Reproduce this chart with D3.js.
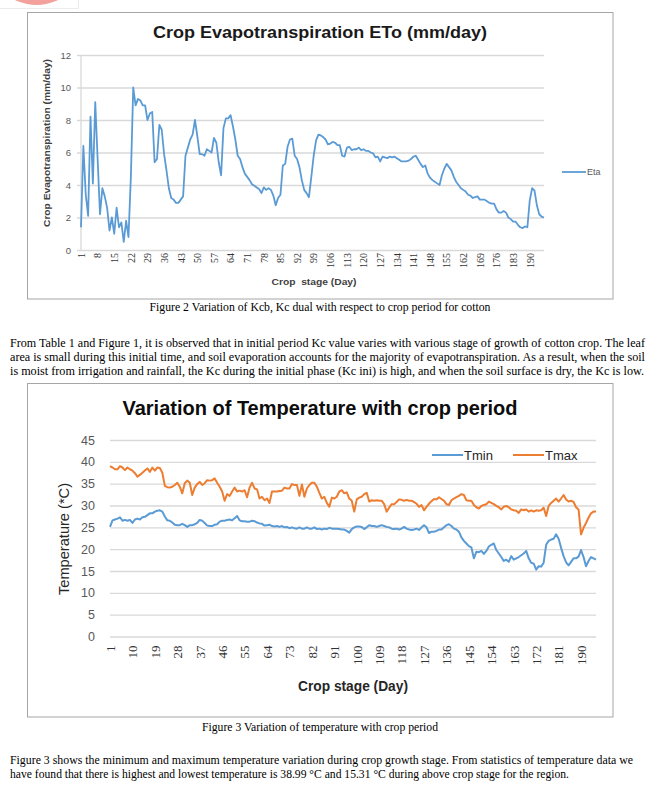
<!DOCTYPE html>
<html>
<head>
<meta charset="utf-8">
<script src="https://cdn.jsdelivr.net/npm/d3@7"></script>
<style>
  html, body { margin: 0; padding: 0; background: #fff; }
  svg { display: block; }
</style>
</head>
<body>
<div id="page"></div>
<script>
// Eta (mm/day), one value per crop day
const eta = [
  1.4, 6.4, 3.4, 2.1, 8.2, 4.1, 9.1, 5.6, 2.2, 3.8,
  3.3, 2.6, 1.2, 2.0, 1.0, 2.6, 1.4, 1.7, 0.5, 1.8,
  0.8, 4.5, 10.0, 8.9, 9.3, 9.2, 8.9, 8.9, 8.0, 8.4,
  8.5, 5.4, 5.6, 7.7, 7.4, 5.9, 4.9, 3.8, 3.2, 3.1,
  2.9, 2.9, 3.1, 3.3, 5.8, 6.3, 6.8, 7.1, 8.0, 7.0,
  5.9, 5.9, 5.8, 6.2, 6.1, 6.0, 6.9, 6.6, 5.4, 4.6,
  7.5, 8.1, 8.1, 8.3, 7.6, 6.8, 5.8, 5.6, 5.1, 4.7,
  4.5, 4.3, 4.05, 3.95, 3.85, 3.75, 3.5, 3.85, 3.7, 3.8,
  3.7, 3.35, 2.75, 3.2, 3.4, 5.2, 5.3, 6.35, 6.8, 6.85,
  5.8, 5.6, 5.1, 4.3, 3.7, 3.5, 3.25, 4.5, 5.8, 6.75,
  7.1, 7.05, 6.95, 6.8, 6.5, 6.55, 6.65, 6.6, 6.45, 6.45,
  5.8, 5.75, 6.3, 6.35, 6.15, 6.2, 6.2, 6.3, 6.15, 6.2,
  6.1, 6.1, 6.0, 5.95, 5.7, 5.75, 5.45, 5.75, 5.7, 5.65,
  5.75, 5.7, 5.75, 5.65, 5.55, 5.45, 5.45, 5.45, 5.5, 5.6,
  5.75, 5.8, 5.55, 5.3, 5.1, 5.2, 4.7, 4.45, 4.3, 4.2,
  4.1, 4.0, 4.6, 5.0, 5.3, 5.1, 4.9, 4.5, 4.2, 4.0,
  3.8, 3.7, 3.6, 3.4, 3.35, 3.2, 3.25, 3.3, 3.1, 3.1,
  3.1, 3.0, 2.9, 2.85, 2.85, 2.5, 2.3, 2.3, 2.4, 2.3,
  2.0, 1.9, 1.75, 1.75, 1.55, 1.4, 1.35, 1.45, 1.4, 3.05,
  3.8, 3.65, 2.75, 2.2, 2.05, 2.0
];

// Tmax and Tmin (*C) per crop day
const tmax = [
  39.0, 38.7, 38.3, 38.3, 39.0, 38.7, 38.1, 38.7, 38.3, 38.0,
  37.4, 36.6, 37.0, 37.5, 38.0, 38.5, 37.7, 38.7, 38.0, 38.7,
  38.6, 37.5, 34.5, 34.2, 34.1, 34.3, 34.7, 35.2, 34.3, 32.8,
  35.1, 35.7, 35.2, 32.4, 34.1, 34.9, 35.4, 34.7, 35.1, 35.8,
  35.7, 35.8, 36.2, 35.2, 34.3, 33.2, 31.1, 32.6, 32.2, 33.2,
  34.1, 33.2, 33.4, 33.2, 33.5, 31.9, 34.1, 35.2, 33.9, 33.7,
  31.6, 32.0, 31.2, 31.6, 30.6, 33.2, 33.2, 33.2, 33.3, 33.4,
  34.1, 33.9, 33.9, 34.9, 34.7, 34.7, 32.2, 34.8, 32.0, 33.9,
  34.7, 35.2, 35.2, 34.3, 32.9, 31.6, 32.0, 30.6, 29.7, 31.8,
  31.6, 32.0, 33.2, 33.5, 32.8, 33.0, 31.6, 31.1, 28.6, 31.4,
  31.8, 32.0, 32.6, 32.9, 30.9, 31.2, 31.1, 31.2, 31.1, 31.1,
  30.3, 28.6, 29.5, 30.3, 30.3, 30.8, 31.4, 31.3, 31.1, 31.3,
  31.1, 31.1, 30.8, 30.4, 29.7, 30.1, 28.9, 29.7, 30.4, 31.0,
  31.5, 31.4, 31.9, 31.5, 31.1, 30.3, 30.1, 31.2, 31.6, 31.9,
  32.2, 32.6, 32.4, 31.2, 31.1, 31.1, 30.1, 29.6, 29.3, 29.9,
  30.1, 30.3, 30.9, 30.6, 30.3, 29.9, 29.6, 29.1, 29.7, 29.9,
  29.6, 29.1, 28.9, 28.8, 28.3, 29.1, 28.9, 29.1, 28.6, 28.9,
  28.6, 28.9, 28.8, 28.9, 29.5, 27.6, 29.9, 30.6, 31.1, 31.6,
  30.9, 31.6, 32.4, 31.4, 30.9, 31.1, 30.8, 29.6, 29.1, 23.4,
  24.9, 26.0, 27.2, 28.2, 28.6, 28.6
];

const tmin = [
  25.1, 26.6, 26.8, 27.0, 27.3, 26.5, 26.7, 26.5, 26.7, 26.0,
  26.8, 27.0, 26.8, 27.3, 27.4, 27.8, 28.2, 28.2, 28.6, 28.8,
  28.9, 28.6, 27.5, 26.6, 26.5, 26.1, 25.6, 25.5, 25.5, 25.8,
  25.5, 25.1, 25.5, 25.5, 25.7, 26.0, 26.7, 26.5, 26.0, 25.4,
  25.3, 25.3, 25.6, 25.7, 26.3, 26.5, 26.5, 26.7, 26.8, 26.6,
  27.1, 27.6, 26.6, 26.4, 26.4, 26.3, 26.3, 26.5, 26.4, 26.1,
  25.9, 25.8, 25.4, 25.5, 25.6, 25.3, 25.2, 25.3, 25.1, 25.3,
  25.0, 25.1, 24.8, 25.0, 24.8, 24.7, 25.0, 24.7, 24.7, 25.0,
  24.7, 24.7, 25.0, 24.6, 24.7, 24.5, 24.7, 24.6, 24.9, 24.7,
  24.7, 24.7, 24.6, 24.5, 24.5, 24.2, 23.8, 24.6, 25.0, 25.2,
  25.2, 25.1, 24.6, 25.0, 25.5, 25.3, 25.3, 25.1, 25.3, 25.5,
  25.3, 25.1, 25.0, 24.7, 24.6, 24.7, 24.5, 24.7, 25.1, 24.7,
  24.5, 24.4, 24.5, 24.7, 24.4, 25.0, 25.5, 25.0, 23.7, 24.0,
  24.0, 24.2, 24.5, 24.5, 25.0, 25.5, 25.7, 25.3, 24.7, 24.5,
  24.0, 22.7, 21.9, 21.3, 20.7, 20.4, 17.9, 19.4, 19.3, 19.6,
  18.9, 19.6, 20.6, 21.0, 21.3, 19.8, 19.0, 18.2, 17.3, 17.6,
  17.1, 18.4, 17.6, 17.9, 18.2, 18.6, 19.0, 19.6, 17.9, 16.9,
  16.7, 15.3, 16.1, 16.0, 16.9, 21.0, 21.9, 22.2, 22.4, 23.4,
  22.4, 20.3, 18.4, 17.0, 16.3, 17.1, 17.9, 17.9, 18.3, 19.8,
  18.2, 16.1, 17.3, 18.2, 17.9, 17.6
];

const days = d3.range(1, eta.length + 1);

// tick labels
const etaXTicks = [1, 8, 15, 22, 29, 36, 43, 50, 57, 64, 71, 78, 85, 92, 99, 106,
                   113, 120, 127, 134, 141, 148, 155, 162, 169, 176, 183, 190];
const etaYTicks = [0, 2, 4, 6, 8, 10, 12];
const tempXTicks = [1, 10, 19, 28, 37, 46, 55, 64, 73, 82, 91, 100, 109, 118, 127,
                    136, 145, 154, 163, 172, 181, 190];
const tempYTicks = [0, 5, 10, 15, 20, 25, 30, 35, 40, 45];

// page text
const caption2 = "Figure 2 Variation of Kcb, Kc dual with respect to crop period for cotton";
const para1 = [
  "From Table 1 and Figure 1, it is observed that in initial period Kc value varies with various stage of growth of cotton crop. The leaf",
  "area is small during this initial time, and soil evaporation accounts for the majority of evapotranspiration. As a result, when the soil",
  "is moist from irrigation and rainfall, the Kc during the initial phase (Kc ini) is high, and when the soil surface is dry, the Kc is low."
];
const para1Widths = [635, 635, 634];
const caption3 = "Figure 3 Variation of temperature with crop period";
const para2 = [
  "Figure 3 shows the minimum and maximum temperature variation during crop growth stage. From statistics of temperature data we",
  "have found that there is highest and lowest temperature is 38.99 \u00b0C and 15.31 \u00b0C during above crop stage for the region."
];
const para2Widths = [623, 559];

const SANS = "'Liberation Sans', Arial, sans-serif";
const SERIF = "'Liberation Serif', 'Times New Roman', serif";
const BLUE = "#5b9bd5", ORANGE = "#ed7d31", GRID = "#d9d9d9", LABEL = "#595959";

const svg = d3.select("#page").append("svg")
    .attr("width", 659)
    .attr("height", 787)
    .attr("viewBox", "0 0 659 787");

svg.append("rect").attr("width", 659).attr("height", 787).attr("fill", "#fff");

// bit of a logo cut off at the top edge
svg.append("path")
    .attr("d", "M0,8.5H78.5V0")
    .attr("fill", "none")
    .attr("stroke", "#ececec");
svg.append("circle")
    .attr("cx", 36.5).attr("cy", -43.7).attr("r", 48.7)
    .attr("fill", "#f3a19c");

// ---------- Figure 2 : Eta ----------
const c1 = svg.append("g");
c1.append("rect")
    .attr("x", 27.5).attr("y", 12.5)
    .attr("width", 585.5).attr("height", 286.5)
    .attr("fill", "#fff")
    .attr("stroke", "#a6a6a6");

const x1 = d3.scaleLinear().domain([1, days.length]).range([81, 544]);
const y1 = d3.scaleLinear().domain([0, 12]).range([250, 55]);

const yAxis1 = c1.append("g")
    .attr("transform", "translate(81,0)")
    .call(d3.axisLeft(y1).tickValues(etaYTicks).tickSize(-(544 - 81)).tickPadding(10));
yAxis1.select(".domain").remove();
yAxis1.selectAll("line").attr("stroke", GRID).attr("stroke-width", 1.3).attr("x1", -4);
yAxis1.selectAll("text")
    .attr("font-family", SANS).attr("font-size", 9.5).attr("fill", LABEL);

c1.append("line")
    .attr("x1", 81).attr("x2", 81).attr("y1", 55).attr("y2", 250)
    .attr("stroke", GRID).attr("stroke-width", 1.3);

const xAxis1 = c1.append("g")
    .attr("transform", "translate(0,250)")
    .call(d3.axisBottom(x1).tickValues(etaXTicks).tickSize(0).tickFormat(d3.format("d")));
xAxis1.select(".domain").remove();
xAxis1.selectAll("text")
    .attr("font-family", SERIF).attr("font-size", 10).attr("fill", "#333")
    .attr("transform", "rotate(-90)")
    .attr("text-anchor", "end")
    .attr("x", -3).attr("y", 0).attr("dy", "0.33em");

const line1 = d3.line().x((d, i) => x1(days[i])).y(d => y1(d));
c1.append("path")
    .datum(eta)
    .attr("d", line1)
    .attr("fill", "none")
    .attr("stroke", BLUE)
    .attr("stroke-width", 1.8)
    .attr("stroke-linejoin", "round");

c1.append("text")
    .attr("x", 320).attr("y", 38)
    .attr("text-anchor", "middle")
    .attr("font-family", SANS).attr("font-weight", "bold").attr("font-size", 16)
    .attr("textLength", 334).attr("lengthAdjust", "spacingAndGlyphs")
    .attr("fill", "#1a1a1a")
    .text("Crop Evapotranspiration ETo (mm/day)");

c1.append("text")
    .attr("transform", "translate(50,143) rotate(-90)")
    .attr("text-anchor", "middle")
    .attr("font-family", SANS).attr("font-weight", "bold").attr("font-size", 9)
    .attr("textLength", 168).attr("lengthAdjust", "spacingAndGlyphs")
    .attr("fill", "#404040")
    .text("Crop Evapotranspiration (mm/day)");

c1.append("text")
    .attr("x", 314).attr("y", 285)
    .attr("text-anchor", "middle")
    .attr("font-family", SANS).attr("font-weight", "bold").attr("font-size", 9)
    .attr("textLength", 85).attr("lengthAdjust", "spacingAndGlyphs")
    .attr("fill", "#404040")
    .style("white-space", "pre")
    .text("Crop  stage (Day)");

// legend
c1.append("line")
    .attr("x1", 562).attr("x2", 586).attr("y1", 172).attr("y2", 172)
    .attr("stroke", BLUE).attr("stroke-width", 1.8);
c1.append("text")
    .attr("x", 587).attr("y", 172).attr("dy", "0.35em")
    .attr("font-family", SANS).attr("font-size", 9).attr("fill", LABEL)
    .text("Eta");

// ---------- Figure 3 : temperature ----------
const c2 = svg.append("g");
c2.append("rect")
    .attr("x", 27.5).attr("y", 383.5)
    .attr("width", 585.5).attr("height", 333.5)
    .attr("fill", "#fff")
    .attr("stroke", "#a6a6a6");

const x2 = d3.scaleLinear().domain([1, days.length]).range([110, 596]);
const y2 = d3.scaleLinear().domain([0, 45]).range([636.5, 440]);

const yAxis2 = c2.append("g")
    .attr("transform", "translate(110,0)")
    .call(d3.axisLeft(y2).tickValues(tempYTicks).tickSize(-(596 - 110)).tickPadding(15));
yAxis2.select(".domain").remove();
yAxis2.selectAll("line").attr("stroke", GRID).attr("stroke-width", 1.4);
yAxis2.selectAll("text")
    .attr("font-family", SANS).attr("font-size", 12.5).attr("fill", LABEL);

const xAxis2 = c2.append("g")
    .attr("transform", "translate(0,636.5)")
    .call(d3.axisBottom(x2).tickValues(tempXTicks).tickSize(0).tickFormat(d3.format("d")));
xAxis2.select(".domain").remove();
xAxis2.selectAll("text")
    .attr("font-family", SERIF).attr("font-size", 13).attr("fill", "#333")
    .attr("transform", "rotate(-90)")
    .attr("text-anchor", "end")
    .attr("x", -9).attr("y", 0).attr("dy", "0.33em");

const line2 = d3.line().x((d, i) => x2(days[i])).y(d => y2(d));
c2.append("path")
    .datum(tmin)
    .attr("d", line2)
    .attr("fill", "none")
    .attr("stroke", BLUE)
    .attr("stroke-width", 2)
    .attr("stroke-linejoin", "round");
c2.append("path")
    .datum(tmax)
    .attr("d", line2)
    .attr("fill", "none")
    .attr("stroke", ORANGE)
    .attr("stroke-width", 2)
    .attr("stroke-linejoin", "round");

c2.append("text")
    .attr("x", 320).attr("y", 415)
    .attr("text-anchor", "middle")
    .attr("font-family", SANS).attr("font-weight", "bold").attr("font-size", 20)
    .attr("textLength", 395).attr("lengthAdjust", "spacingAndGlyphs")
    .attr("fill", "#0d0d0d")
    .text("Variation of Temperature with crop period");

c2.append("text")
    .attr("transform", "translate(69,539) rotate(-90)")
    .attr("text-anchor", "middle")
    .attr("font-family", SANS).attr("font-size", 14)
    .attr("textLength", 112).attr("lengthAdjust", "spacingAndGlyphs")
    .attr("fill", "#262626")
    .text("Temperature (*C)");

c2.append("text")
    .attr("x", 353).attr("y", 691)
    .attr("text-anchor", "middle")
    .attr("font-family", SANS).attr("font-weight", "bold").attr("font-size", 14)
    .attr("textLength", 110).attr("lengthAdjust", "spacingAndGlyphs")
    .attr("fill", "#262626")
    .text("Crop stage (Day)");

// legend
const legend2 = [
  { name: "Tmin", color: BLUE, x: 432 },
  { name: "Tmax", color: ORANGE, x: 513 }
];
const lg = c2.selectAll("g.legend")
    .data(legend2)
    .enter()
    .append("g")
    .attr("class", "legend")
    .attr("transform", d => `translate(${d.x},455)`);
lg.append("line")
    .attr("x1", 0).attr("x2", 31)
    .attr("stroke", d => d.color).attr("stroke-width", 2);
lg.append("text")
    .attr("x", 32).attr("dy", "0.35em")
    .attr("font-family", SANS).attr("font-size", 13).attr("fill", "#262626")
    .text(d => d.name);

// ---------- captions and body text ----------
// each line is fitted to the width it has on the scanned page
function caption(txt, y, width) {
  svg.append("text")
      .attr("x", 320).attr("y", y)
      .attr("text-anchor", "middle")
      .attr("font-family", SERIF).attr("font-size", 12).attr("fill", "#000")
      .attr("textLength", width).attr("lengthAdjust", "spacingAndGlyphs")
      .text(txt);
}

function paragraph(lines, widths, y0, step) {
  svg.append("g").selectAll("text")
      .data(lines)
      .enter()
      .append("text")
      .attr("x", 10)
      .attr("y", (d, i) => y0 + i * step)
      .attr("font-family", SERIF).attr("font-size", 12).attr("fill", "#000")
      .attr("textLength", (d, i) => widths[i])
      .attr("lengthAdjust", "spacingAndGlyphs")
      .text(d => d);
}

caption(caption2, 311, 341);
paragraph(para1, para1Widths, 346.5, 14.3);
caption(caption3, 730.5, 236);
paragraph(para2, para2Widths, 763.5, 14);
</script>
</body>
</html>
